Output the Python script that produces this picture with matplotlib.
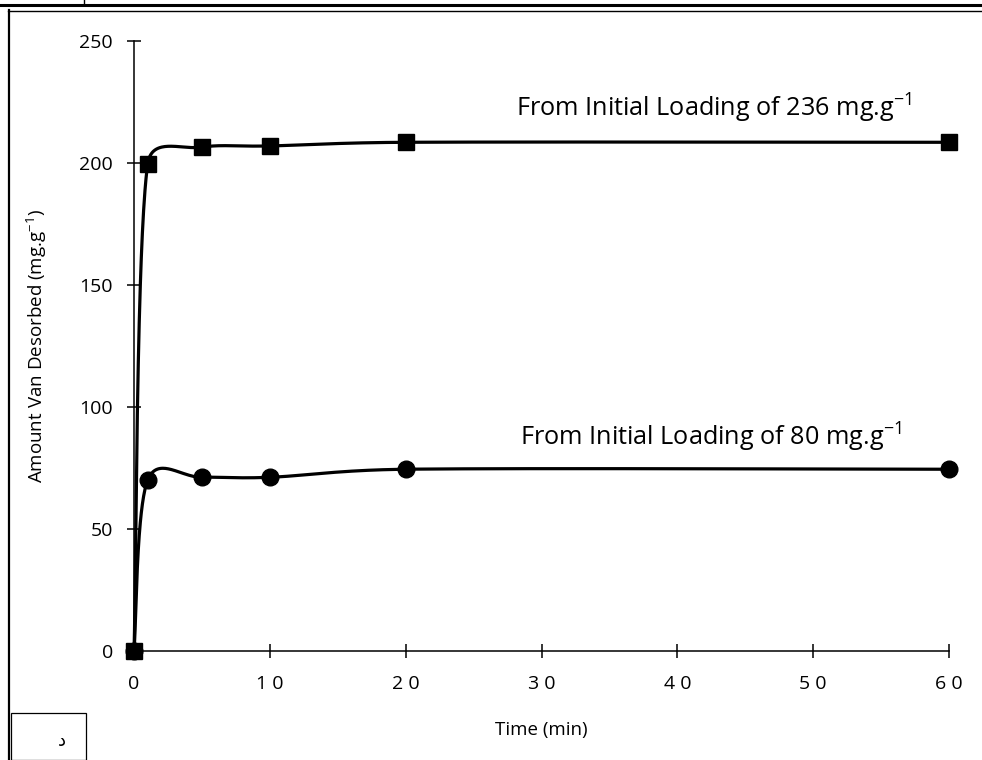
import numpy as np
import matplotlib
matplotlib.use("Agg")
from matplotlib import pyplot as plt
from matplotlib.lines import Line2D
from matplotlib.patches import Rectangle

plt.rcParams['font.family'] = ['Open Sans', 'DejaVu Sans']
plt.rcParams['mathtext.fontset'] = 'custom'
plt.rcParams['mathtext.rm'] = 'Open Sans'

# data
time_min = [0, 1, 5, 10, 20, 60]
high_load = [0, 199.5, 206.5, 207, 208.5, 208.5]
low_load = [0, 70, 71.2, 71.2, 74.5, 74.5]

x_ticks = [0, 10, 20, 30, 40, 50, 60]
y_ticks = [0, 50, 100, 150, 200, 250]
high_label = r"From Initial Loading of 236 mg.g$^{\mathregular{-1}}$"
low_label = r"From Initial Loading of 80 mg.g$^{\mathregular{-1}}$"


def smooth(ax, xs, ys, n=60):
    # Excel-like smoothed line: bezier segments built in pixel space,
    # control arms = (next - prev)/6, clamped to half the segment length
    pts = ax.transData.transform(np.column_stack([xs, ys]))
    out = [pts[0]]
    for i in range(len(pts) - 1):
        p0 = pts[max(i - 1, 0)]
        p1 = pts[i]
        p2 = pts[i + 1]
        p3 = pts[min(i + 2, len(pts) - 1)]
        d12 = np.hypot(*(p2 - p1))
        a1 = (p2 - p0) / 6.0
        a2 = (p3 - p1) / 6.0
        for a in (a1, a2):
            l = np.hypot(*a)
            if l > d12 / 2.0:
                a *= (d12 / 2.0) / l
        c1 = p1 + a1
        c2 = p2 - a2
        t = np.linspace(0, 1, n)[1:, None]
        seg = ((1 - t) ** 3) * p1 + 3 * ((1 - t) ** 2) * t * c1 + 3 * (1 - t) * t ** 2 * c2 + t ** 3 * p2
        out.extend(seg)
    out = ax.transData.inverted().transform(np.array(out))
    return out[:, 0], out[:, 1]


fig = plt.figure(figsize=(9.82, 7.6), dpi=100)
ax = fig.add_axes([0.1365, 0.1434, 0.8299, 0.8026])
ax.set_xlim(0, 60)
ax.set_ylim(0, 250)

for ys, mk in [(high_load, 's'), (low_load, 'o')]:
    sx, sy = smooth(ax, time_min, ys)
    ax.plot(sx, sy, color='black', lw=2.3, clip_on=False, zorder=3)
    ax.plot(time_min, ys, ls='none', marker=mk, ms=12, color='black', clip_on=False, zorder=4)

ax.text(28.1, 222.5, high_label, fontsize=18.2, va='center', ha='left')
ax.text(28.4, 87.7, low_label, fontsize=18.2, va='center', ha='left')

ax.spines['top'].set_visible(False)
ax.spines['right'].set_visible(False)
for s in ['left', 'bottom']:
    ax.spines[s].set_linewidth(1.1)
ax.set_xticks(x_ticks)
ax.set_xticklabels([" ".join(str(v)) for v in x_ticks])
ax.set_yticks(y_ticks)
ax.tick_params(direction='inout', length=10.5, width=1.1, labelsize=14)
ax.tick_params(axis='x', pad=12)
ax.tick_params(axis='y', pad=10)
ax.set_xlabel("Time (min)", fontsize=13.5, labelpad=20)
ax.set_ylabel("Amount Van Desorbed (mg.g$^{\\mathregular{-1}}$)", fontsize=13.5, labelpad=22)

# table borders around the chart
W, H = 982.0, 760.0
def hline(y, x0, x1, lw):
    fig.add_artist(Line2D([x0 / W, x1 / W], [1 - y / H, 1 - y / H], color='black', lw=lw))
def vline(x, y0, y1, lw):
    fig.add_artist(Line2D([x / W, x / W], [1 - y0 / H, 1 - y1 / H], color='black', lw=lw))

hline(5, 0, W, 2.2)
hline(10.5, 8, W, 1.0)
vline(84, 0, 5, 1.0)
vline(8.5, 10, H, 1.6)
fig.add_artist(Rectangle((11 / W, 0), 75 / W, 1 - 713 / H, transform=fig.transFigure,
                         fill=False, ec='black', lw=0.9))
fig.text(62 / W, 1 - 741 / H, "د", fontsize=13, family='DejaVu Sans', ha='center', va='center')

fig.savefig("out.png", dpi=100)
